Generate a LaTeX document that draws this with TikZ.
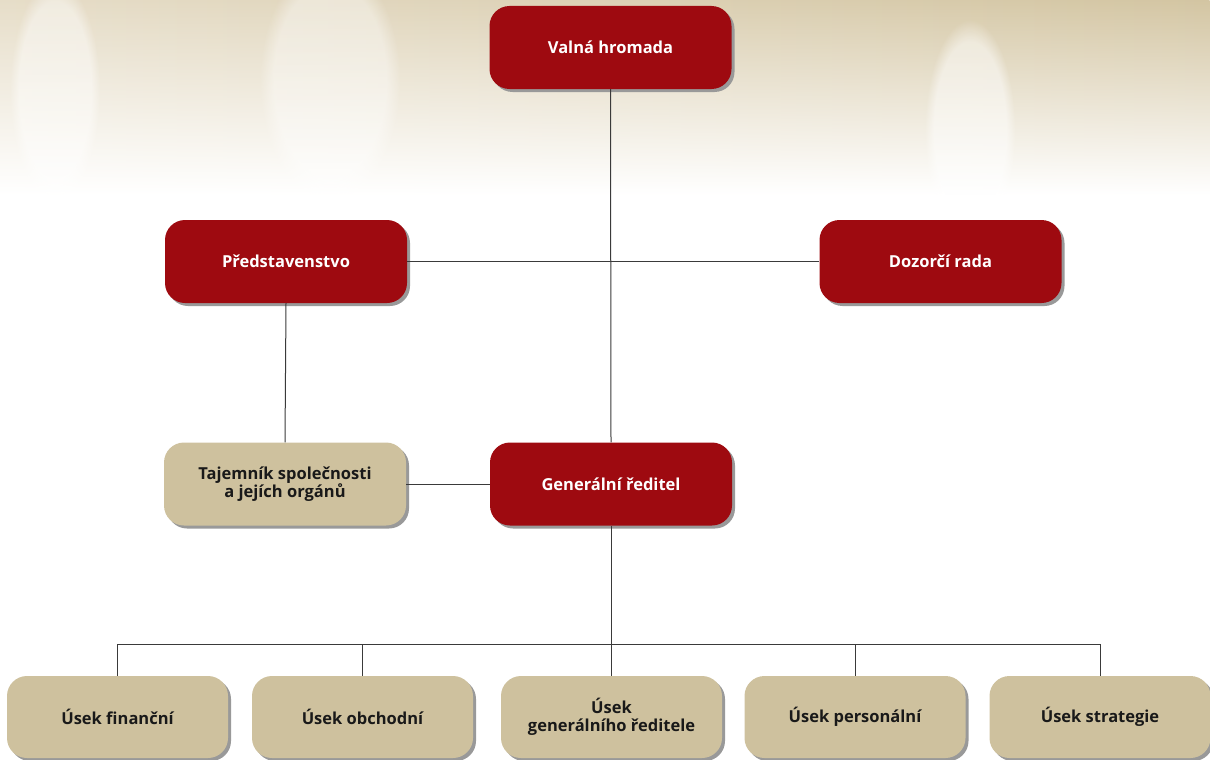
\documentclass[tikz,border=0pt]{standalone}
\usepackage{fontspec}
\setmainfont{Open Sans}
\usetikzlibrary{shadows,fadings}
\definecolor{vinova}{HTML}{9E0A10}
\definecolor{bezova}{HTML}{CEC19E}
\definecolor{pozadiL}{HTML}{E6DDC8}
\definecolor{pozadiP}{HTML}{D3C5A2}
\definecolor{cara}{HTML}{3A3A3A}
\tikzfading[name=nahoru, top color=transparent!0, middle color=transparent!25, bottom color=transparent!100]
\begin{document}
\begin{tikzpicture}[x=1pt, y=-1pt,
  box/.style={rectangle, rounded corners=20pt, minimum height=83pt, align=center,
    font=\fontsize{16.5}{18.5}\selectfont\bfseries,
    drop shadow={shadow xshift=3pt, shadow yshift=-3pt, fill=gray!80, opacity=1}},
  cervena/.style={box, fill=vinova, text=white, minimum width=242pt},
  bezovy/.style={box, fill=bezova, text=black!90, minimum width=242pt},
  usek/.style={box, fill=bezova, text=black!90, minimum width=221pt, minimum height=82pt},
  spoj/.style={draw=cara, line width=1pt},
  svetlo/.style={fill=white, path fading=circle with fuzzy edge 20 percent}]
\useasboundingbox (0,0) rectangle (1210,760);
% Pozadi
\shade[left color=pozadiL, right color=pozadiP, path fading=nahoru] (0,0) rectangle (1210,195);
\fill[svetlo, opacity=0.45] (55,90) ellipse (45 and 110);
\fill[svetlo, opacity=0.4] (330,80) ellipse (70 and 120);
\fill[svetlo, opacity=0.5] (970,130) ellipse (45 and 110);
% Uzly
\node [cervena] (valna)  at (610.5, 47.5) {Valná hromada};
\node [cervena] (pred)   at (286, 261.5) {Představenstvo};
\node [cervena] (dozor)  at (940.5, 261.5) {Dozorčí rada};
\node [bezovy]  (taj)    at (285, 484) {Tajemník společnosti\\a jejích orgánů};
\node [cervena] (gen)    at (611, 484) {Generální ředitel};
\node [usek] (u1) at (117.5, 717) {Úsek finanční};
\node [usek] (u2) at (362.5, 717) {Úsek obchodní};
\node [usek] (u3) at (611.5, 717) {Úsek\\generálního ředitele};
\node [usek] (u4) at (855, 717) {Úsek personální};
\node [usek] (u5) at (1100, 717) {Úsek strategie};
\coordinate (sbernice) at (611, 644);
% Spoje
\path [spoj] (valna.south) -- (gen.north);
\path [spoj] (pred.east) -- (dozor.west);
\path [spoj] (pred.south) -- (taj.north);
\path [spoj] (taj.east) -- (gen.west);
\path [spoj] (gen.south) -- (sbernice);
\foreach \i in {1,...,5}
  \path [spoj] (sbernice) -| (u\i.north);
\end{tikzpicture}
\end{document}
